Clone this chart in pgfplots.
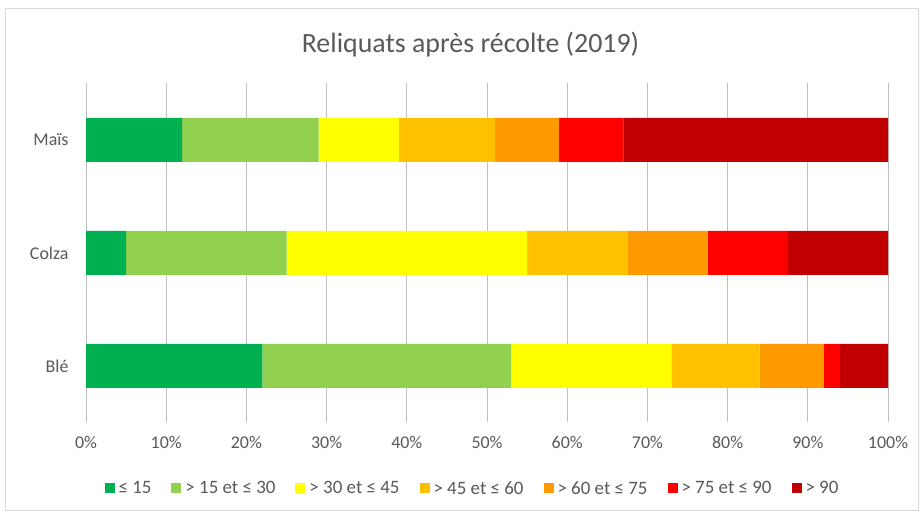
\documentclass[border=0pt]{standalone}
\usepackage{pgfplots}
\pgfplotsset{compat=1.18}
\usepackage{fontspec}
\setmainfont{Carlito}
\definecolor{txt}{HTML}{595959}
\definecolor{grid}{HTML}{D9D9D9}
\definecolor{c1}{HTML}{00B050}
\definecolor{c2}{HTML}{92D050}
\definecolor{c3}{HTML}{FFFF00}
\definecolor{c4}{HTML}{FFC000}
\definecolor{c5}{HTML}{FF9900}
\definecolor{c6}{HTML}{FF0000}
\definecolor{c7}{HTML}{C00000}
\begin{document}
\begin{tikzpicture}[x=1bp,y=1bp]
\path (0,0) rectangle (921,513);
\draw[grid, line width=1bp] (5.5,504.5) rectangle (918.5,2);
\node[text=txt, font=\fontsize{28}{32}\selectfont] at (470.5,468) {Reliquats après récolte (2019)};
\begin{axis}[
  at={(86bp,90.5bp)}, anchor=south west,
  scale only axis, width=802bp, height=339bp,
  xbar stacked, bar width=44bp,
  xmin=0, xmax=100, ymin=-0.5, ymax=2.5,
  ytick={0,1,2}, yticklabels={Blé,Colza,Maïs},
  xtick={0,10,...,100},
  xticklabel={\pgfmathprintnumber{\tick}\%},
  /pgf/number format/assume math mode=true,
  xmajorgrids, grid style={grid, line width=1bp},
  major tick length=0pt,
  axis line style={draw=none},
  tick label style={text=txt, font=\fontsize{18}{21}\selectfont},
  y tick label style={xshift=-14bp},
  x tick label style={yshift=-10bp},
  legend style={at={(387.5bp,-66bp)}, anchor=center, draw=none, fill=none,
    legend columns=7, font=\fontsize{19}{22}\selectfont, text=txt,
    /tikz/every even column/.append style={column sep=16bp},
    /tikz/every odd column/.append style={column sep=0bp},
    nodes={inner xsep=4bp}},
  legend cell align=left,
  legend image code/.code={\fill[#1] (0bp,-5bp) rectangle (10bp,5bp);},
  every axis plot/.append style={draw=none},
]
\addplot[fill=c1] coordinates {(22,0) (5,1) (12,2)};
\addplot[fill=c2] coordinates {(31,0) (20,1) (17,2)};
\addplot[fill=c3] coordinates {(20,0) (30,1) (10,2)};
\addplot[fill=c4] coordinates {(11,0) (12.5,1) (12,2)};
\addplot[fill=c5] coordinates {(8,0) (10,1) (8,2)};
\addplot[fill=c6] coordinates {(2,0) (10,1) (8,2)};
\addplot[fill=c7] coordinates {(6,0) (12.5,1) (33,2)};
\legend{≤ 15, > 15 et ≤ 30, > 30 et ≤ 45, > 45 et ≤ 60, > 60 et ≤ 75, > 75 et ≤ 90, > 90}
\end{axis}
\end{tikzpicture}
\end{document}
